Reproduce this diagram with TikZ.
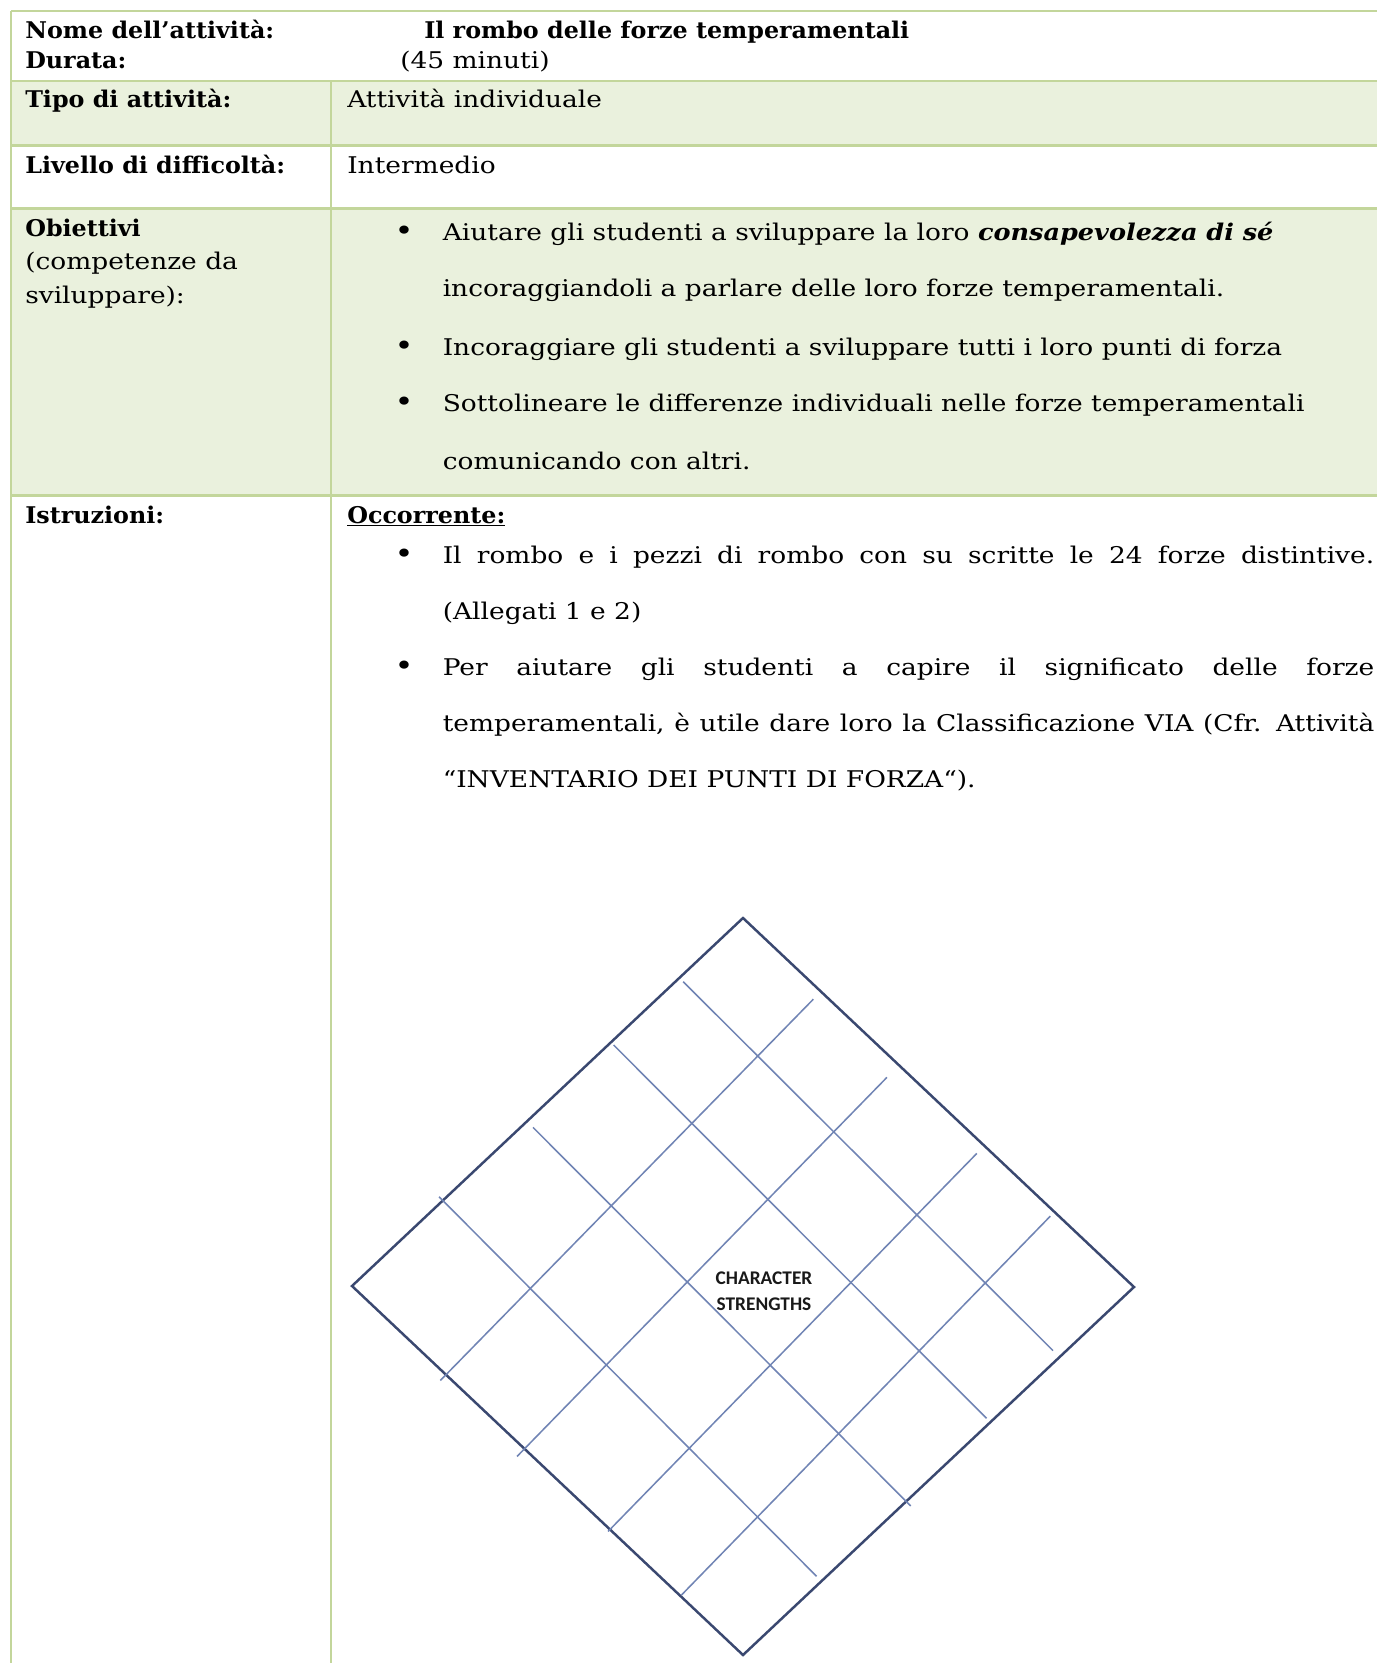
\documentclass[tikz,border=0pt]{standalone}
\usepackage{fontspec}
\setmainfont{DejaVu Serif}[UprightFeatures={FakeStretch=1.15},ItalicFeatures={FakeStretch=1.15},BoldFeatures={FakeStretch=1.035},BoldItalicFeatures={FakeStretch=1.11}]
\newfontfamily\calib{Carlito}
\definecolor{tgreen}{RGB}{195,214,155}
\definecolor{tfill}{RGB}{234,241,221}
\definecolor{rimb}{RGB}{58,72,112}
\definecolor{rgrid}{RGB}{112,132,180}
\newcommand{\bfs}{\fontsize{17.25}{20}\selectfont}
\begin{document}
\begin{tikzpicture}[x=0.75pt,y=-0.75pt,
  tline/.style={draw=tgreen,line width=1.65pt},
  txt/.style={anchor=base west,inner sep=0pt,font=\bfs},
  bul/.style={anchor=center,inner sep=0pt,font=\fontsize{21}{21}\selectfont},
  rimbedge/.style={draw=rimb,line width=1.85pt,line join=miter},
  rimbgrid/.style={draw=rgrid,line width=1.15pt}]
\useasboundingbox (0,0) rectangle (1377,1663);
\fill[white] (0,0) rectangle (1377,1663);
% shaded rows
\fill[tfill] (11,81) rectangle (1377,145.5);
\fill[tfill] (11,208.5) rectangle (1377,495.5);
% table rules
\draw[tline] (11,11) -- (1377,11);
\draw[tline] (11,81) -- (1377,81);
\draw[tline] (11,145.5) -- (1377,145.5);
\draw[tline] (11,208.5) -- (1377,208.5);
\draw[tline] (11,495.5) -- (1377,495.5);
\draw[tline] (11,11) -- (11,1663);
\draw[tline] (331,81) -- (331,1663);
% header
\node[txt] (nome) at (25,38) {\textbf{Nome dell’attività:}};
\node[txt] (titolo) at (424,38) {\textbf{Il rombo delle forze temperamentali}};
\node[txt] (durata) at (25,68.5) {\textbf{Durata:}};
\node[txt] (minuti) at (400,68.5) {(45 minuti)};
% row 2
\node[txt] (tipo) at (25,107.5) {\textbf{Tipo di attività:}};
\node[txt] (tipov) at (347,107.5) {Attività individuale};
% row 3
\node[txt] (liv) at (25,173) {\textbf{Livello di difficoltà:}};
\node[txt] (livv) at (347,173) {Intermedio};
% row 4
\node[txt] (obi1) at (25,236) {\textbf{Obiettivi}};
\node[txt] (obi2) at (25,269.5) {(competenze da};
\node[txt] (obi3) at (25,303) {sviluppare):};
\node[bul] (ob1) at (404,233) {•};
\node[txt] (o1a) at (442.5,240) {Aiutare gli studenti a sviluppare la loro \textbf{\textit{consapevolezza di sé}}};
\node[txt] (o1b) at (442.5,296) {incoraggiandoli a parlare delle loro forze temperamentali.};
\node[bul] (ob2) at (404,348.5) {•};
\node[txt] (o2) at (442.5,355.5) {Incoraggiare gli studenti a sviluppare tutti i loro punti di forza};
\node[bul] (ob3) at (404,404.5) {•};
\node[txt] (o3a) at (442.5,411.5) {Sottolineare le differenze individuali nelle forze temperamentali};
\node[txt] (o3b) at (442.5,469) {comunicando con altri.};
% row 5
\node[txt] (istr) at (25,523) {\textbf{Istruzioni:}};
\node[txt] (occ) at (347,523) {\underline{\textbf{Occorrente:}}};
\node[bul] (ib1) at (404,556) {•};
\node[txt] (i1a) at (442.5,563) {\makebox[698.6pt][s]{Il rombo e i pezzi di rombo con su scritte le 24 forze distintive.}};
\node[txt] (i1b) at (442.5,619) {(Allegati 1 e 2)};
\node[bul] (ib2) at (404,668) {•};
\node[txt] (i2a) at (442.5,675) {\makebox[698.6pt][s]{Per aiutare gli studenti a capire il significato delle forze}};
\node[txt] (i2b) at (442.5,731) {\makebox[698.6pt][s]{temperamentali, è utile dare loro la Classificazione VIA (Cfr. Attività}};
\node[txt] (i2c) at (442.5,787) {“INVENTARIO DEI PUNTI DI FORZA“).};
% rhombus (u along L->T, v along L->B)
\begin{scope}[shift={(264pt,-964.5pt)},x={(293.25pt,276pt)},y={(293.25pt,-276.75pt)}]
\coordinate (L) at (0,0);
\coordinate (T) at (1,0);
\coordinate (R) at (1,1);
\coordinate (B) at (0,1);
\draw[rimbedge] (L) -- (T) -- (R) -- (B) -- cycle;
% lines parallel to the L-B side
\coordinate (a1) at (0.837,0.010); \coordinate (a1e) at (0.810,0.983);
\coordinate (a2) at (0.662,0.007); \coordinate (a2e) at (0.633,0.990);
\coordinate (a3) at (0.447,0.016); \coordinate (a3e) at (0.417,1.012);
\coordinate (a4) at (0.2326,-0.010); \coordinate (a4e) at (0.201,0.987);
% lines parallel to the L-T side
\coordinate (b1) at (-0.015,0.241); \coordinate (b1e) at (0.980,0.200);
\coordinate (b2) at (-0.020,0.442); \coordinate (b2e) at (0.968,0.400);
\coordinate (b3) at (-0.005,0.660); \coordinate (b3e) at (0.980,0.618);
\coordinate (b4) at (0.003,0.840); \coordinate (b4e) at (0.989,0.797);
\draw[rimbgrid] (a1) -- (a1e) (a2) -- (a2e) (a3) -- (a3e) (a4) -- (a4e);
\draw[rimbgrid] (b1) -- (b1e) (b2) -- (b2e) (b3) -- (b3e) (b4) -- (b4e);
\end{scope}
\node[font=\calib\bfseries\fontsize{14.5}{19.5}\selectfont,align=center,inner sep=0pt,text=black!90] (cs) at (764,1291) {CHARACTER\\STRENGTHS};
\end{tikzpicture}
\end{document}
